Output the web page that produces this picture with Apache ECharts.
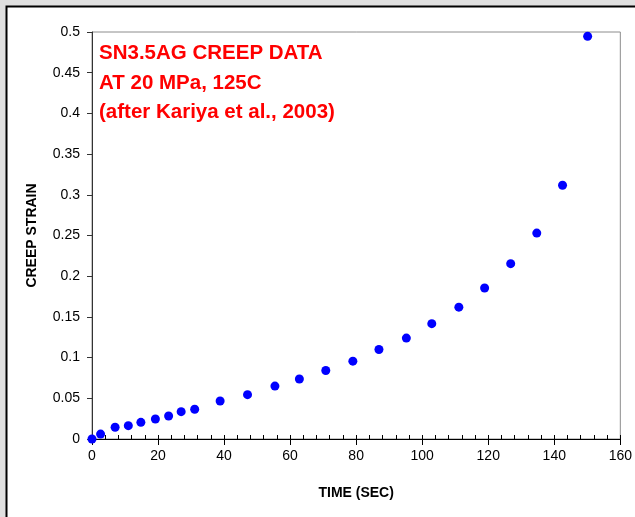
<!DOCTYPE html>
<html>
<head>
<meta charset="utf-8">
<script src="https://cdn.jsdelivr.net/npm/echarts@6/dist/echarts.min.js"></script>
<style>
  html, body { margin: 0; padding: 0; background: #e0e0e0; }
  #chart { width: 635px; height: 517px; }
</style>
</head>
<body>
<div id="chart"></div>
<script>
// time (sec) and creep strain
var timeSec = [0, 2.6, 7, 11, 14.8, 19.2, 23.2, 27, 31.1, 38.8, 47.1, 55.4, 62.8,
  70.8, 79, 86.9, 95.2, 102.9, 111.1, 118.9, 126.8, 134.7, 142.5, 150.1];
var creepStrain = [0, 0.006, 0.0144, 0.0164, 0.0205, 0.0246, 0.0283, 0.0336, 0.0365,
  0.0467, 0.0545, 0.065, 0.0737, 0.0842, 0.0956, 0.110, 0.124, 0.1417, 0.162,
  0.1855, 0.2154, 0.253, 0.3118, 0.4947];
var noteLines = ["SN3.5AG CREEP DATA", "AT 20 MPa, 125C", "(after Kariya et al., 2003)"];

var points = [];
for (var i = 0; i < timeSec.length; i++) {
  points.push([timeSec[i], creepStrain[i]]);
}

var chart = echarts.init(document.getElementById("chart"));
var font = "Liberation Sans, Arial, sans-serif";

chart.setOption({
  animation: false,
  backgroundColor: "#e0e0e0",
  textStyle: { fontFamily: font },
  graphic: [
    {
      type: "rect",
      z: -10,
      shape: { x: 6.5, y: 6.5, width: 700, height: 600 },
      style: { fill: "#ffffff", stroke: "#000000", lineWidth: 2 }
    },
    {
      type: "text",
      left: 99,
      top: 39,
      z: 10,
      style: {
        text: noteLines.join("\n"),
        fill: "#ff0000",
        font: "bold 20.5px " + font,
        lineHeight: 29.5
      }
    }
  ],
  grid: {
    left: 92,
    top: 32,
    width: 529,
    height: 407,
    show: true,
    backgroundColor: "transparent",
    borderColor: "#8c8c8c",
    borderWidth: 1
  },
  xAxis: [
    {
      type: "value",
      min: 0,
      max: 160,
      interval: 20,
      name: "TIME (SEC)",
      nameLocation: "middle",
      nameGap: 47,
      nameTextStyle: { color: "#000", fontWeight: "bold", fontSize: 14, fontFamily: font },
      axisLine: { show: true, lineStyle: { color: "#000", width: 1 } },
      axisTick: { show: true, inside: false, length: 6, lineStyle: { color: "#000" } },
      axisLabel: { color: "#000", fontSize: 14, margin: 10, fontFamily: font },
      splitLine: { show: false }
    },
    {
      type: "value",
      min: 0,
      max: 160,
      interval: 4,
      position: "bottom",
      axisLine: { show: false },
      axisTick: { show: true, inside: true, length: 4, lineStyle: { color: "#000" } },
      axisLabel: { show: false },
      splitLine: { show: false }
    }
  ],
  yAxis: {
    type: "value",
    min: 0,
    max: 0.5,
    interval: 0.05,
    name: "CREEP STRAIN",
    nameLocation: "middle",
    nameGap: 53,
    nameTextStyle: { color: "#000", fontWeight: "bold", fontSize: 14, fontFamily: font },
    axisLine: { show: true, lineStyle: { color: "#333", width: 1 } },
    axisTick: { show: true, inside: false, length: 5, lineStyle: { color: "#333" } },
    axisLabel: {
      color: "#000",
      fontSize: 14,
      margin: 12,
      fontFamily: font,
      formatter: function (v) { return String(Math.round(v * 100) / 100); }
    },
    splitLine: { show: false }
  },
  series: [
    {
      type: "scatter",
      xAxisIndex: 0,
      data: points,
      symbol: "circle",
      symbolSize: 9,
      itemStyle: { color: "#0000ff", opacity: 1 },
      z: 5
    }
  ]
});
</script>
</body>
</html>
